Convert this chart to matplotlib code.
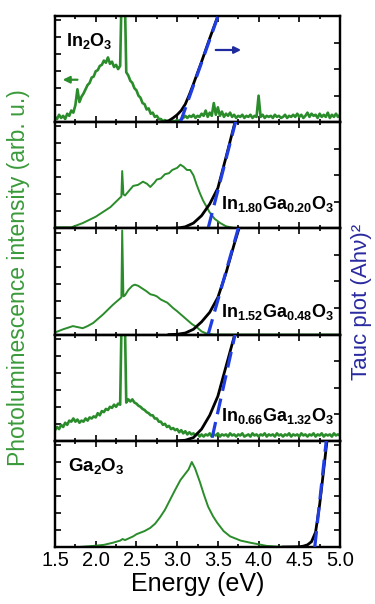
import numpy as np
import matplotlib
matplotlib.use("Agg")
import matplotlib.pyplot as plt
from matplotlib.ticker import MultipleLocator

plt.rcParams['font.family'] = ['Liberation Sans', 'DejaVu Sans']
plt.rcParams['mathtext.fontset'] = 'custom'
plt.rcParams['mathtext.rm'] = 'Liberation Sans'
plt.rcParams['mathtext.bf'] = 'Liberation Sans:bold'

# sample names, top to bottom
labels = [r'$\mathbf{In_2O_3}$',
          r'$\mathbf{In_{1.80}Ga_{0.20}O_3}$',
          r'$\mathbf{In_{1.52}Ga_{0.48}O_3}$',
          r'$\mathbf{In_{0.66}Ga_{1.32}O_3}$',
          r'$\mathbf{Ga_2O_3}$']

# noisy PL spectra on a 0.025 eV grid starting at 1.5 eV
noisy_start = 1.5
noisy_step = 0.025
pl_in2o3 = [0.05, 0.03, 0.07, 0.04, 0.06, 0.03, 0.08, 0.06, 0.11, 0.09,
            0.16, 0.31, 0.19, 0.24, 0.27, 0.31, 0.35, 0.37, 0.42, 0.43,
            0.48, 0.49, 0.53, 0.54, 0.58, 0.56, 0.61, 0.55, 0.57, 0.52,
            0.54, 0.50, 0.53, 1.50, 1.50, 0.47, 0.44, 0.39, 0.37, 0.32,
            0.30, 0.25, 0.23, 0.18, 0.17, 0.12, 0.13, 0.08, 0.09, 0.05,
            0.06, 0.03, 0.03, 0.01, 0.02, 0.01, 0.01, 0.00, 0.01, 0.01,
            0.02, 0.01, 0.03, 0.04, 0.06, 0.04, 0.06, 0.05, 0.07, 0.04,
            0.06, 0.05, 0.08, 0.06, 0.11, 0.05, 0.09, 0.06, 0.18, 0.07,
            0.14, 0.06, 0.10, 0.05, 0.08, 0.06, 0.09, 0.05, 0.07, 0.04,
            0.06, 0.05, 0.07, 0.04, 0.06, 0.05, 0.07, 0.04, 0.06, 0.05,
            0.25, 0.05, 0.07, 0.04, 0.06, 0.05, 0.06, 0.04, 0.07, 0.05,
            0.06, 0.04, 0.05, 0.07, 0.04, 0.06, 0.05, 0.07, 0.05, 0.08,
            0.05, 0.07, 0.04, 0.06, 0.09, 0.05, 0.08, 0.06, 0.07, 0.04,
            0.08, 0.05, 0.07, 0.05, 0.09, 0.04, 0.07, 0.05, 0.08, 0.05,
            0.07]
pl_in066 = [0.10, 0.13, 0.11, 0.15, 0.13, 0.17, 0.15, 0.19, 0.18, 0.21,
            0.18, 0.20, 0.17, 0.19, 0.18, 0.21, 0.19, 0.22, 0.21, 0.23,
            0.22, 0.26, 0.24, 0.28, 0.27, 0.30, 0.29, 0.32, 0.31, 0.34,
            0.32, 0.35, 0.34, 1.50, 1.50, 0.36, 0.39, 0.37, 0.39, 0.36,
            0.35, 0.33, 0.32, 0.30, 0.29, 0.27, 0.26, 0.24, 0.24, 0.21,
            0.21, 0.18, 0.18, 0.15, 0.16, 0.13, 0.14, 0.11, 0.12, 0.10,
            0.11, 0.08, 0.10, 0.07, 0.09, 0.06, 0.08, 0.06, 0.07, 0.05,
            0.07, 0.04, 0.06, 0.04, 0.06, 0.05, 0.07, 0.04, 0.06, 0.05,
            0.07, 0.04, 0.06, 0.05, 0.06, 0.04, 0.07, 0.05, 0.06, 0.04,
            0.06, 0.05, 0.07, 0.04, 0.05, 0.06, 0.04, 0.07, 0.05, 0.06,
            0.04, 0.06, 0.05, 0.07, 0.04, 0.06, 0.05, 0.06, 0.04, 0.07,
            0.05, 0.06, 0.04, 0.06, 0.05, 0.07, 0.04, 0.06, 0.05, 0.06,
            0.04, 0.07, 0.05, 0.06, 0.04, 0.06, 0.05, 0.07, 0.04, 0.06,
            0.05, 0.07, 0.04, 0.06, 0.05, 0.06, 0.04, 0.07, 0.05, 0.06,
            0.05]

# smooth PL spectra
e_in180 = [1.50, 1.70, 1.84, 2.00, 2.18, 2.30, 2.315, 2.325, 2.34, 2.36, 2.46, 2.52,
           2.58, 2.63, 2.67, 2.72, 2.75, 2.80, 2.85, 2.90, 2.94, 3.00, 3.04, 3.08,
           3.12, 3.16, 3.20, 3.24, 3.28, 3.32, 3.40, 3.46, 3.53, 3.60, 3.69, 3.80, 5.00]
pl_in180 = [0.01, 0.01, 0.05, 0.11, 0.20, 0.29, 0.30, 0.54, 0.32, 0.31, 0.40, 0.41,
            0.44, 0.42, 0.39, 0.43, 0.46, 0.47, 0.51, 0.52, 0.55, 0.57, 0.60, 0.58,
            0.55, 0.55, 0.50, 0.41, 0.33, 0.26, 0.15, 0.09, 0.05, 0.02, 0.005, 0.0, 0.0]
e_in152 = [1.50, 1.60, 1.72, 1.78, 1.84, 1.90, 1.97, 2.09, 2.21, 2.30, 2.315, 2.325,
           2.34, 2.36, 2.40, 2.45, 2.48, 2.52, 2.58, 2.62, 2.67, 2.72, 2.75, 2.80,
           2.88, 2.95, 3.00, 3.06, 3.12, 3.18, 3.24, 3.30, 3.36, 3.45, 5.00]
pl_in152 = [0.02, 0.05, 0.08, 0.07, 0.06, 0.08, 0.11, 0.19, 0.28, 0.34, 0.35, 0.98,
            0.36, 0.37, 0.42, 0.46, 0.47, 0.46, 0.43, 0.41, 0.38, 0.37, 0.36, 0.33,
            0.30, 0.25, 0.22, 0.18, 0.14, 0.10, 0.07, 0.03, 0.01, 0.0, 0.0]
e_ga2o3 = [1.50, 1.80, 1.97, 2.10, 2.21, 2.30, 2.33, 2.36, 2.46, 2.50, 2.60, 2.67,
           2.73, 2.79, 2.85, 2.91, 2.97, 3.04, 3.10, 3.14, 3.18, 3.22, 3.28, 3.33,
           3.38, 3.44, 3.49, 3.57, 3.65, 3.78, 3.90, 4.10, 4.30, 5.00]
pl_ga2o3 = [0.0, 0.0, 0.01, 0.02, 0.04, 0.06, 0.075, 0.065, 0.10, 0.12, 0.15, 0.18,
            0.22, 0.28, 0.35, 0.44, 0.53, 0.63, 0.69, 0.73, 0.80, 0.74, 0.61, 0.49,
            0.38, 0.29, 0.23, 0.15, 0.10, 0.06, 0.04, 0.01, 0.0, 0.0]

# Tauc plots (normalised)
tauc_e = [
    [2.75, 2.85, 2.90, 2.95, 3.00, 3.05, 3.10, 3.15, 3.20, 3.30, 3.40, 3.50, 3.55],
    [2.90, 3.00, 3.10, 3.20, 3.30, 3.40, 3.50, 3.60, 3.70, 3.75],
    [2.90, 3.00, 3.10, 3.20, 3.30, 3.40, 3.50, 3.60, 3.70, 3.76, 3.80],
    [3.00, 3.10, 3.20, 3.30, 3.40, 3.50, 3.60, 3.70, 3.75],
    [4.30, 4.50, 4.55, 4.60, 4.65, 4.70, 4.75, 4.80, 4.84, 4.86],
]
tauc_y = [
    [0.0, 0.003, 0.015, 0.04, 0.07, 0.11, 0.17, 0.26, 0.36, 0.57, 0.79, 1.0, 1.1],
    [0.0, 0.002, 0.015, 0.05, 0.12, 0.23, 0.38, 0.67, 0.97, 1.1],
    [0.0, 0.003, 0.015, 0.05, 0.12, 0.21, 0.35, 0.58, 0.85, 1.0, 1.1],
    [0.0, 0.005, 0.03, 0.11, 0.24, 0.42, 0.70, 0.98, 1.1],
    [0.0, 0.002, 0.008, 0.02, 0.05, 0.14, 0.40, 0.73, 1.0, 1.1],
]

# linear fits (start and end points)
fit_e = [[3.04, 3.54], [3.38, 3.75], [3.38, 3.78], [3.43, 3.74], [4.69, 4.845]]
fit_y = [[0.0, 1.08], [0.0, 1.1], [0.0, 1.08], [0.03, 1.1], [0.0, 1.1]]

green = '#2a8c2a'
blue = '#1f3de0'
navy = '#1e2a9e'

fig, axes = plt.subplots(5, 1, sharex=True, figsize=(3.75, 6.04), dpi=100)
fig.subplots_adjust(left=0.1467, right=0.9067, top=0.9735, bottom=0.0944, hspace=0)

e_noisy = noisy_start + noisy_step * np.arange(len(pl_in2o3))
pl_e = [e_noisy, e_in180, e_in152, e_noisy, e_ga2o3]
pl_y = [pl_in2o3, pl_in180, pl_in152, pl_in066, pl_ga2o3]

for i, ax in enumerate(axes):
    ax.plot(pl_e[i], pl_y[i], color=green, lw=1.9 if i in (0, 3) else 1.4, zorder=2)
    ax.set_ylim(0, 1)
    ax.set_xlim(1.5, 5.0)

    # Tauc plot on right axis
    tw = ax.twinx()
    tw.plot(tauc_e[i], tauc_y[i], color='black', lw=2.0, zorder=3)
    tw.plot(fit_e[i], fit_y[i], color=blue, lw=2.3, dashes=(5, 2.5), zorder=4)
    tw.set_ylim(0, 1)
    tw.set_yticklabels([])

    ax.xaxis.set_major_locator(MultipleLocator(0.5))
    ax.xaxis.set_minor_locator(MultipleLocator(0.25))
    ax.yaxis.set_major_locator(MultipleLocator(0.16))
    ax.set_yticklabels([])
    if i < 4:
        tw.yaxis.set_major_locator(MultipleLocator(0.25))
    else:
        tw.yaxis.set_major_locator(MultipleLocator(0.16))

    ax.tick_params(axis='x', which='both', direction='in', top=True, width=1.2)
    ax.tick_params(axis='x', which='major', length=4.5, labelsize=14.5, pad=3)
    ax.tick_params(axis='x', which='minor', length=2.5)
    ax.tick_params(axis='y', direction='in', length=4, width=1.2)
    tw.tick_params(axis='y', direction='in', length=4, width=1.2)
    for sp in list(ax.spines.values()) + list(tw.spines.values()):
        sp.set_linewidth(1.6)

# sample labels
axes[0].text(1.64, 0.72, labels[0], fontsize=13, va='baseline', ha='left')
axes[1].text(4.93, 0.18, labels[1], fontsize=13, va='baseline', ha='right')
axes[2].text(4.93, 0.17, labels[2], fontsize=13, va='baseline', ha='right')
axes[3].text(4.93, 0.19, labels[3], fontsize=13, va='baseline', ha='right')
axes[4].text(1.66, 0.72, labels[4], fontsize=13.5, va='baseline', ha='left')

# arrows showing which axis each curve belongs to
axes[0].annotate('', xy=(1.56, 0.40), xytext=(1.81, 0.40),
                 arrowprops=dict(arrowstyle='-|>', color=green, lw=1.6, mutation_scale=10))
axes[0].annotate('', xy=(3.82, 0.68), xytext=(3.44, 0.68),
                 arrowprops=dict(arrowstyle='-|>', color=navy, lw=1.6, mutation_scale=10))

axes[4].set_xlabel('Energy (eV)', fontsize=18, labelpad=1)

fig.text(19 / 375, 1 - 278 / 604, 'Photoluminescence intensity (arb. u.)',
         rotation=90, ha='center', va='center', color='#3a9a3a', fontsize=16.5)
fig.text(361 / 375, 1 - 302 / 604, 'Tauc plot (Ahν)²',
         rotation=90, ha='center', va='center', color='#2a2aa0', fontsize=16)

fig.savefig('out.png', dpi=100)
